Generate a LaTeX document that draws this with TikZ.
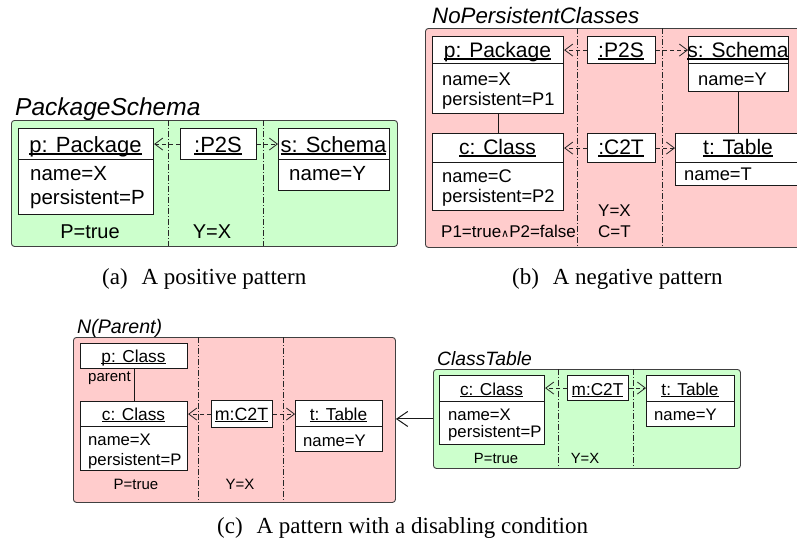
\documentclass[tikz,border=0pt]{standalone}
\usepackage{fontspec}
\setmainfont{Liberation Sans}
\newfontfamily\capfont{Liberation Serif}
\newfontfamily\symfont{DejaVu Sans}
\usetikzlibrary{arrows.meta}
\newcommand\fsz[1]{\fontsize{#1}{#1}\selectfont}
\newcommand\uobj[1]{\setbox0\hbox{#1}\rlap{\rule[-0.13em]{\wd0}{0.07em}}\box0}
\definecolor{paneGreen}{HTML}{CCFFCC}
\definecolor{paneRed}{HTML}{FFCCCC}
\begin{document}
\begin{tikzpicture}[x=1pt,y=-1pt,
  pane/.style={draw=black!75, line width=0.9pt, rounded corners=3pt, inner sep=0pt, anchor=north west},
  greenpane/.style={pane, fill=paneGreen},
  redpane/.style={pane, fill=paneRed},
  sep/.style={black!85, line width=0.8pt, dash pattern=on 6pt off 2pt on 1pt off 2pt},
  obj/.style={draw=black!90, fill=white, line width=1.1pt, inner sep=0pt, anchor=north west},
  hdr/.style={inner sep=0pt, anchor=base},
  attr/.style={inner sep=0pt, anchor=base west},
  cons/.style={inner sep=0pt, anchor=base},
  title/.style={inner sep=0pt, anchor=base west},
  capt/.style={inner sep=0pt, anchor=base west, font=\capfont\fsz{23}},
  link/.style={black!85, line width=0.8pt, dash pattern=on 4pt off 3pt,
    -{Straight Barb[length=8pt,width=12pt,line width=0.8pt]}},
  assoc/.style={black!90, line width=1.1pt},
  neg/.style={black!90, line width=1pt, -{Straight Barb[length=11pt,width=15pt,line width=1pt]}}
]
\useasboundingbox (0,0) rectangle (797,547);

% ---------------- (a) ----------------
\node[title, font=\fsz{24.5}\itshape] (tA) at (15,115) {PackageSchema};
\node[greenpane, minimum width=386pt, minimum height=126pt] (paneA) at (11,120) {};
\draw[sep] (168,120) -- (168,246);
\draw[sep] (263,120) -- (263,246);
\node[obj, minimum width=135pt, minimum height=31pt] (pA) at (18,128) {};
\node[obj, minimum width=135pt, minimum height=55pt] (pAattr) at (18,159) {};
\node[obj, minimum width=76pt, minimum height=31pt] (P2SA) at (180,128) {};
\node[obj, minimum width=111pt, minimum height=31pt] (sA) at (278,128) {};
\node[obj, minimum width=111pt, minimum height=31pt] (sAattr) at (278,159) {};
\node[hdr, font=\fsz{22}] (pAt) at (85.5,152) {\uobj{p: Package}};
\node[hdr, font=\fsz{22}] (P2SAt) at (218,152) {\uobj{:P2S}};
\node[hdr, font=\fsz{22}] (sAt) at (333.5,152) {\uobj{s: Schema}};
\node[attr, font=\fsz{20.5}] (pAa1) at (30,180) {name=X};
\node[attr, font=\fsz{20.5}] (pAa2) at (30,204) {persistent=P};
\node[attr, font=\fsz{20.5}] (sAa1) at (289,180) {name=Y};
\node[cons, font=\fsz{20}] (cA1) at (90,238) {P=true};
\node[cons, font=\fsz{20}] (cA2) at (212,238) {Y=X};
\draw[link] (P2SA) -- (pA);
\draw[link] (P2SA) -- (sA);
\node[capt] (capA) at (102,284) {(a)\hspace{0.6em}A positive pattern};

% ---------------- (b) ----------------
\node[title, font=\fsz{22.3}\itshape] (tB) at (432,23) {NoPersistentClasses};
\node[redpane, minimum width=387pt, minimum height=219pt] (paneB) at (425,28) {};
\draw[sep] (577,28) -- (577,247);
\draw[sep] (662,28) -- (662,247);
\node[obj, minimum width=131pt, minimum height=27pt] (pB) at (432,36) {};
\node[obj, minimum width=131pt, minimum height=50pt] (pBattr) at (432,63) {};
\node[obj, minimum width=68pt, minimum height=27pt] (P2SB) at (587,36) {};
\node[obj, minimum width=100pt, minimum height=27pt] (sB) at (688,36) {};
\node[obj, minimum width=100pt, minimum height=28pt] (sBattr) at (688,63) {};
\node[obj, minimum width=131pt, minimum height=29pt] (cB) at (432,133) {};
\node[obj, minimum width=131pt, minimum height=48pt] (cBattr) at (432,162) {};
\node[obj, minimum width=68pt, minimum height=29pt] (C2TB) at (587,133) {};
\node[obj, minimum width=126pt, minimum height=29pt] (tB) at (675,133) {};
\node[obj, minimum width=126pt, minimum height=23pt] (tBattr) at (675,162) {};
\node[hdr, font=\fsz{21}] (pBt) at (497.5,57) {\uobj{p: Package}};
\node[hdr, font=\fsz{21}] (P2SBt) at (621,57) {\uobj{:P2S}};
\node[hdr, font=\fsz{21}] (sBt) at (738,57) {\uobj{s: Schema}};
\node[hdr, font=\fsz{21}] (cBt) at (497.5,154) {\uobj{c: Class}};
\node[hdr, font=\fsz{21}] (C2TBt) at (621,154) {\uobj{:C2T}};
\node[hdr, font=\fsz{21}] (tBt) at (738,154) {\uobj{t: Table}};
\node[attr, font=\fsz{18.3}] (pBa1) at (442,85) {name=X};
\node[attr, font=\fsz{18.3}] (pBa2) at (442,105) {persistent=P1};
\node[attr, font=\fsz{18.3}] (sBa1) at (698,85) {name=Y};
\node[attr, font=\fsz{18.3}] (cBa1) at (442,182) {name=C};
\node[attr, font=\fsz{18.3}] (cBa2) at (442,202) {persistent=P2};
\node[attr, font=\fsz{18.3}] (tBa1) at (684,180) {name=T};
\node[attr, font=\fsz{17}] (cB1) at (441,237) {P1=true{\symfont\fsz{11}∧}P2=false};
\node[attr, font=\fsz{17}] (cB2) at (598,216) {Y=X};
\node[attr, font=\fsz{17}] (cB3) at (598,237) {C=T};
\draw[assoc] (pBattr) -- (cB);
\draw[assoc] (sBattr) -- (tB);
\draw[link] (P2SB) -- (pB);
\draw[link] (P2SB) -- (sB);
\draw[link] (C2TB) -- (cB);
\draw[link] (C2TB) -- (tB);
\node[capt] (capB) at (512,284) {(b)\hspace{0.6em}A negative pattern};

% ---------------- (c) left ----------------
\node[title, font=\fsz{19.6}\itshape] (tC) at (77,333) {N(Parent)};
\node[redpane, minimum width=322pt, minimum height=165pt] (paneC) at (73,337) {};
\draw[sep] (198,337) -- (198,502);
\draw[sep] (283,337) -- (283,502);
\node[obj, minimum width=107pt, minimum height=25pt] (pC) at (80,343) {};
\node[obj, minimum width=107pt, minimum height=25pt] (cC) at (80,401) {};
\node[obj, minimum width=107pt, minimum height=44pt] (cCattr) at (80,426) {};
\node[obj, minimum width=61pt, minimum height=27pt] (mC) at (211,400) {};
\node[obj, minimum width=87pt, minimum height=26pt] (tC) at (295,400) {};
\node[obj, minimum width=87pt, minimum height=25pt] (tCattr) at (295,426) {};
\node[hdr, font=\fsz{17.3}] (pCt) at (133.5,362) {\uobj{p: Class}};
\node[attr, font=\fsz{15}] (parC) at (88,381) {parent};
\node[hdr, font=\fsz{17.3}] (cCt) at (133.5,420) {\uobj{c: Class}};
\node[hdr, font=\fsz{17.8}] (mCt) at (241.5,420) {\uobj{m:C2T}};
\node[hdr, font=\fsz{17.3}] (tCt) at (338.5,420) {\uobj{t: Table}};
\node[attr, font=\fsz{16.7}] (cCa1) at (88,445) {name=X};
\node[attr, font=\fsz{16.7}] (cCa2) at (88,465) {persistent=P};
\node[attr, font=\fsz{16.7}] (tCa1) at (303,446) {name=Y};
\node[cons, font=\fsz{15}] (cC1) at (136,489) {P=true};
\node[cons, font=\fsz{15}] (cC2) at (240,489) {Y=X};
\draw[assoc] (pC) -- (cC);
\draw[link] (mC.west) -- (mC.west -| cC.east);
\draw[link] (mC.east) -- (mC.east -| tC.west);

% ---------------- (c) right ----------------
\node[title, font=\fsz{19.3}\itshape] (tD) at (437,365) {ClassTable};
\node[greenpane, minimum width=307pt, minimum height=99pt] (paneD) at (433,369) {};
\draw[sep] (558,369) -- (558,468);
\draw[sep] (633,369) -- (633,468);
\node[obj, minimum width=105pt, minimum height=26pt] (cD) at (439,375) {};
\node[obj, minimum width=105pt, minimum height=43pt] (cDattr) at (439,401) {};
\node[obj, minimum width=61pt, minimum height=25pt] (mD) at (567,375) {};
\node[obj, minimum width=88pt, minimum height=26pt] (tD) at (646,375) {};
\node[obj, minimum width=88pt, minimum height=25pt] (tDattr) at (646,401) {};
\node[hdr, font=\fsz{17.2}] (cDt) at (491.5,395) {\uobj{c: Class}};
\node[hdr, font=\fsz{17.2}] (mDt) at (597.5,395) {\uobj{m:C2T}};
\node[hdr, font=\fsz{17.2}] (tDt) at (690,395) {\uobj{t: Table}};
\node[attr, font=\fsz{16.7}] (cDa1) at (448,420) {name=X};
\node[attr, font=\fsz{16.7}] (cDa2) at (448,437) {persistent=P};
\node[attr, font=\fsz{16.7}] (tDa1) at (654,420) {name=Y};
\node[cons, font=\fsz{14.8}] (cD1) at (496,463) {P=true};
\node[cons, font=\fsz{14.8}] (cD2) at (585,463) {Y=X};
\draw[link] (mD.west) -- (mD.west -| cD.east);
\draw[link] (mD.east) -- (mD.east -| tD.west);
\draw[neg] (paneD.west) -- (paneD.west -| paneC.east);

\node[capt] (capC) at (217,533) {(c)\hspace{0.6em}A pattern with a disabling condition};
\end{tikzpicture}
\end{document}
